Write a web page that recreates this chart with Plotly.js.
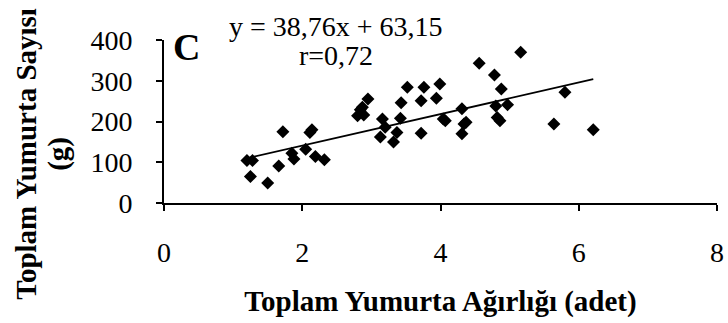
<!DOCTYPE html>
<html>
<head>
<meta charset="utf-8">
<script src="https://cdn.plot.ly/plotly-3.0.1.min.js"></script>
<style>
  html, body { margin: 0; padding: 0; background: #fff; }
  #chart { width: 728px; height: 323px; }
</style>
</head>
<body>
<div id="chart"></div>
<script>
// Total egg weight (x) against total egg count (y)
const eggWeight = [1.20, 1.28, 1.25, 1.50, 1.66, 1.72, 1.85, 1.88, 2.05, 2.11, 2.14, 2.19, 2.32,
  2.80, 2.89, 2.84, 2.87, 2.95, 3.13, 3.16, 3.20, 3.32, 3.37, 3.42, 3.43, 3.52, 3.72, 3.72, 3.76,
  3.94, 3.99, 4.04, 4.07, 4.31, 4.34, 4.37, 4.31, 4.56, 4.78, 4.88, 4.80, 4.97, 4.82, 4.86, 5.16,
  5.64, 5.80, 6.21];
const eggCount = [104, 104, 65, 49, 91, 175, 122, 108, 132, 173, 180, 114, 106,
  214, 216, 229, 235, 255, 162, 206, 186, 150, 173, 208, 246, 284, 171, 251, 284,
  257, 292, 206, 202, 231, 194, 198, 170, 343, 314, 280, 238, 241, 210, 202, 370,
  194, 272, 180];

// Linear fit reported on the chart
const slope = 38.76;
const intercept = 63.15;
const rValue = "0,72";

const xTicks = [0, 2, 4, 6, 8];
const yTicks = [0, 100, 200, 300, 400];

const fitX = [Math.min(...eggWeight), Math.max(...eggWeight)];
const fitY = fitX.map(x => slope * x + intercept);

const serif = "Liberation Serif";

const traces = [
  {
    x: eggWeight, y: eggCount, type: "scatter", mode: "markers",
    marker: { symbol: "diamond", size: 10, color: "#000" },
    cliponaxis: false, hoverinfo: "skip"
  },
  {
    x: fitX, y: fitY, type: "scatter", mode: "lines",
    line: { color: "#000", width: 1.8 }, hoverinfo: "skip"
  }
];

const fmt = v => v.toFixed(2).replace(".", ",");

const layout = {
  width: 728, height: 323,
  margin: { l: 164, r: 11, t: 40, b: 120 },
  paper_bgcolor: "#fff", plot_bgcolor: "#fff",
  showlegend: false,
  font: { family: serif, size: 28, color: "#000" },
  xaxis: {
    range: [0, 8], tickvals: xTicks, ticktext: xTicks.map(String),
    showgrid: false, zeroline: false, showline: true, linecolor: "#000", linewidth: 2,
    ticks: "outside", ticklen: 6, tickwidth: 2, tickcolor: "#000",
    ticklabelstandoff: 17,
    tickfont: { family: serif, size: 28, color: "#000" },
    title: {
      text: "<b>Toplam Yumurta Ağırlığı (adet)</b>",
      font: { family: serif, size: 29, color: "#000" },
      standoff: 24
    }
  },
  yaxis: {
    range: [0, 400], tickvals: yTicks, ticktext: yTicks.map(String),
    showgrid: false, zeroline: false, showline: true, linecolor: "#000", linewidth: 2,
    ticks: "outside", ticklen: 6, tickwidth: 2, tickcolor: "#000",
    ticklabelstandoff: 18,
    tickfont: { family: serif, size: 28, color: "#000" }
  },
  annotations: [
    {
      text: "<b>C</b>", xref: "paper", yref: "paper",
      x: (186 - 164) / 553, y: (203.3 - 47) / 163.3, xanchor: "center", yanchor: "middle",
      showarrow: false, font: { family: serif, size: 38, color: "#000" }
    },
    {
      text: "y = " + fmt(slope) + "x + " + fmt(intercept), xref: "paper", yref: "paper",
      x: (336 - 164) / 553, y: (203.3 - 26) / 163.3, xanchor: "center", yanchor: "middle",
      showarrow: false, font: { family: serif, size: 28, color: "#000" }
    },
    {
      text: "r=" + rValue, xref: "paper", yref: "paper",
      x: (336 - 164) / 553, y: (203.3 - 56) / 163.3, xanchor: "center", yanchor: "middle",
      showarrow: false, font: { family: serif, size: 28, color: "#000" }
    },
    {
      text: "<b>Toplam Yumurta Sayısı</b>", xref: "paper", yref: "paper",
      x: (26 - 164) / 553, y: (203.3 - 154) / 163.3, xanchor: "center", yanchor: "middle",
      textangle: -90, showarrow: false,
      font: { family: serif, size: 29, color: "#000" }
    },
    {
      text: "<b>(g)</b>", xref: "paper", yref: "paper",
      x: (59 - 164) / 553, y: (203.3 - 154) / 163.3, xanchor: "center", yanchor: "middle",
      textangle: -90, showarrow: false,
      font: { family: serif, size: 29, color: "#000" }
    }
  ]
};

Plotly.newPlot("chart", traces, layout, { displayModeBar: false, staticPlot: true });
</script>
</body>
</html>
